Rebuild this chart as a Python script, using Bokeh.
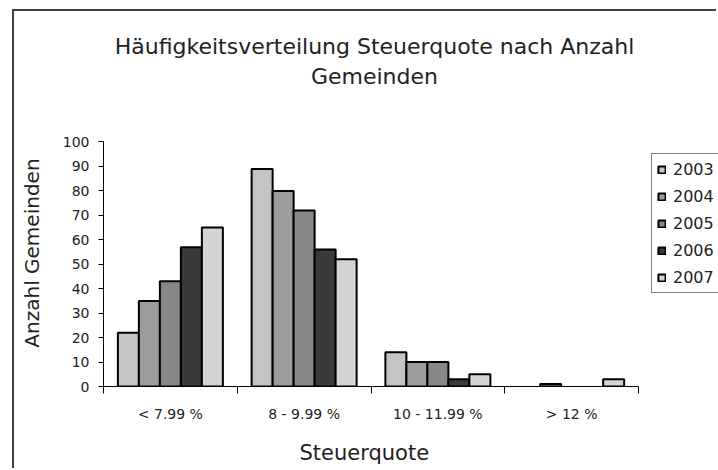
from bokeh.plotting import figure
from bokeh.models import FixedTicker, Legend, LegendItem, Label, Range1d, ColumnDataSource
from bokeh.embed import file_html
from bokeh.resources import INLINE

categories = ["< 7.99 %", "8 - 9.99 %", "10 - 11.99 %", "> 12 %"]
years = ["2003", "2004", "2005", "2006", "2007"]
v2003 = [22, 89, 14, 0]
v2004 = [35, 80, 10, 1]
v2005 = [43, 72, 10, 0]
v2006 = [57, 56, 3, 0]
v2007 = [65, 52, 5, 3]
series = [v2003, v2004, v2005, v2006, v2007]
colors = ["#c4c4c4", "#9c9c9c", "#878787", "#3a3a3a", "#d4d4d4"]
title_lines = ["Häufigkeitsverteilung Steuerquote nach Anzahl", "Gemeinden"]
y_ticks = list(range(0, 101, 10))
x_title = "Steuerquote"
y_title = "Anzahl Gemeinden"

FONT = "DejaVu Sans"
TXT = "#222222"
NB = "\u00a0"

p = figure(width=704, height=459, output_backend="svg", toolbar_location=None, title=None,
           x_range=Range1d(0, 4.598), y_range=Range1d(0, 153.37),
           min_border_left=89, min_border_right=0, min_border_top=0, min_border_bottom=84)
p.styles = {"margin-left": "12px", "margin-top": "9px",
            "border-left": "2px solid #404040", "border-top": "2px solid #404040"}
p.xgrid.visible = False
p.ygrid.visible = False
p.outline_line_color = None

bw = 0.157
items = []
for j, (yr, vals, col) in enumerate(zip(years, series, colors)):
    xs = [i + 0.5 + (j - 2) * bw for i in range(len(categories)) if vals[i] > 0]
    tops = [v for v in vals if v > 0]
    src = ColumnDataSource(dict(x=xs, top=tops))
    r = p.vbar(x="x", top="top", width=bw, bottom=0, source=src,
               fill_color=col, line_color="black", line_width=2)
    items.append(LegendItem(label=yr, renderers=[r]))

# y axis
ya = p.yaxis[0]
ya.bounds = (0, 100)
ya.ticker = FixedTicker(ticks=y_ticks)
ya.major_tick_out = 5
ya.major_tick_in = 0
ya.minor_tick_out = 0
ya.minor_tick_in = 0
ya.axis_line_color = "black"
ya.major_tick_line_color = "black"
ya.major_label_text_font = FONT
ya.major_label_text_font_size = "14px"
ya.major_label_text_color = TXT
ya.major_label_standoff = 9
# trailing no-break spaces keep the title centred on the 0-100 part of the axis
ya.axis_label = y_title + NB * 17
ya.axis_label_text_font = FONT
ya.axis_label_text_font_size = "20px"
ya.axis_label_text_font_style = "normal"
ya.axis_label_text_color = TXT
ya.axis_label_standoff = 16

# x axis
xa = p.xaxis[0]
xa.bounds = (0, 4)
xa.ticker = FixedTicker(ticks=[0.5, 1.5, 2.5, 3.5], minor_ticks=[0, 1, 2, 3, 4])
xa.major_label_overrides = {0.5: categories[0], 1.5: categories[1], 2.5: categories[2], 3.5: categories[3]}
xa.major_tick_out = 0
xa.major_tick_in = 0
xa.minor_tick_out = 7
xa.minor_tick_in = 0
xa.minor_tick_line_color = "black"
xa.axis_line_color = "black"
xa.major_label_text_font = FONT
xa.major_label_text_font_size = "14px"
xa.major_label_text_color = TXT
xa.major_label_standoff = 12
xa.axis_label = x_title + NB * 14
xa.axis_label_text_font = FONT
xa.axis_label_text_font_size = "21px"
xa.axis_label_text_font_style = "normal"
xa.axis_label_text_color = TXT
xa.axis_label_standoff = 16

# title (two lines)
for txt, yy in zip(title_lines, [139.06, 126.8]):
    p.add_layout(Label(x=2.026, y=yy, text=txt, text_align="center", text_baseline="alphabetic",
                       text_font=FONT, text_font_size="22px", text_color=TXT))

legend = Legend(items=items, location=(548, 93), orientation="vertical",
                label_text_font=FONT, label_text_font_size="16px", label_text_color=TXT,
                glyph_width=9, glyph_height=9, label_height=20, label_width=50, spacing=7, padding=5,
                label_standoff=7, border_line_color="black", border_line_width=1,
                background_fill_color="white", background_fill_alpha=1, margin=0)
p.add_layout(legend, "center")

open("out.html", "w").write(file_html(p, INLINE))
